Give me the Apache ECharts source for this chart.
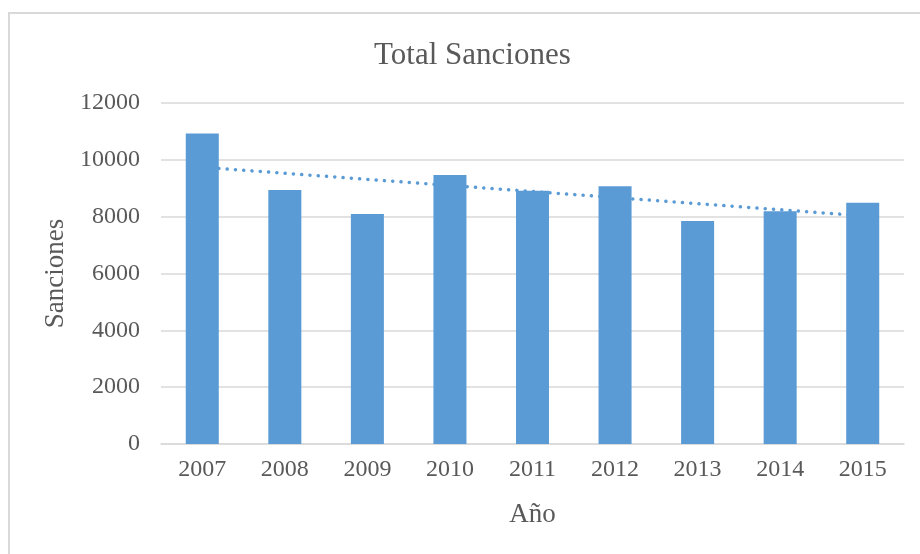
<!DOCTYPE html>
<html>
<head>
<meta charset="utf-8">
<script src="https://cdn.jsdelivr.net/npm/echarts@6/dist/echarts.min.js"></script>
<style>html,body{margin:0;padding:0;background:#fff;}#c{width:920px;height:554px;}</style>
</head>
<body>
<div id="c"></div>
<script>
const categories = ['2007','2008','2009','2010','2011','2012','2013','2014','2015'];
const sanciones = [10930, 8940, 8090, 9470, 8910, 9070, 7850, 8190, 8490];
// trendline at first and last year
const trendline = [9740, null, null, null, null, null, null, null, 8030];
const yTicks = [0, 2000, 4000, 6000, 8000, 10000, 12000];

const serif = '"Liberation Serif", "Times New Roman", serif';
const txt = '#595959';
const chart = echarts.init(document.getElementById('c'));
chart.setOption({
  animation: false,
  backgroundColor: '#fff',
  graphic: [{
    type: 'rect', shape: {x: 9, y: 13, width: 1000, height: 1000},
    style: {fill: 'none', stroke: '#D9D9D9', lineWidth: 2}, silent: true
  }],
  title: {
    text: 'Total Sanciones', left: 369, top: 35,
    textStyle: {fontFamily: serif, fontSize: 31, fontWeight: 'normal', color: txt}
  },
  grid: {left: 161, right: 16, top: 103, bottom: 110, containLabel: false},
  xAxis: {
    type: 'category', data: categories,
    name: 'Año', nameLocation: 'middle', nameGap: 57,
    nameTextStyle: {fontFamily: serif, fontSize: 27, color: txt},
    axisLine: {lineStyle: {color: '#D9D9D9', width: 1.5}},
    axisTick: {show: false},
    axisLabel: {fontFamily: serif, fontSize: 24, color: txt, margin: 14}
  },
  yAxis: {
    type: 'value', min: yTicks[0], max: yTicks[yTicks.length - 1], interval: 2000,
    name: 'Sanciones', nameLocation: 'middle', nameGap: 80,
    nameTextStyle: {fontFamily: serif, fontSize: 27, color: txt},
    axisLine: {show: false}, axisTick: {show: false},
    axisLabel: {fontFamily: serif, fontSize: 24, color: txt, margin: 21, formatter: v => String(v)},
    splitLine: {lineStyle: {color: '#D9D9D9', width: 1.5}}
  },
  series: [{
    type: 'bar', data: sanciones, barWidth: '40%',
    itemStyle: {color: '#5B9BD5'}
  }, {
    type: 'line', data: trendline, connectNulls: true, symbol: 'none',
    lineStyle: {color: '#5B9BD5', width: 3.5, type: [0.1, 8.2], cap: 'round'},
    z: 3
  }]
});
</script>
</body>
</html>
